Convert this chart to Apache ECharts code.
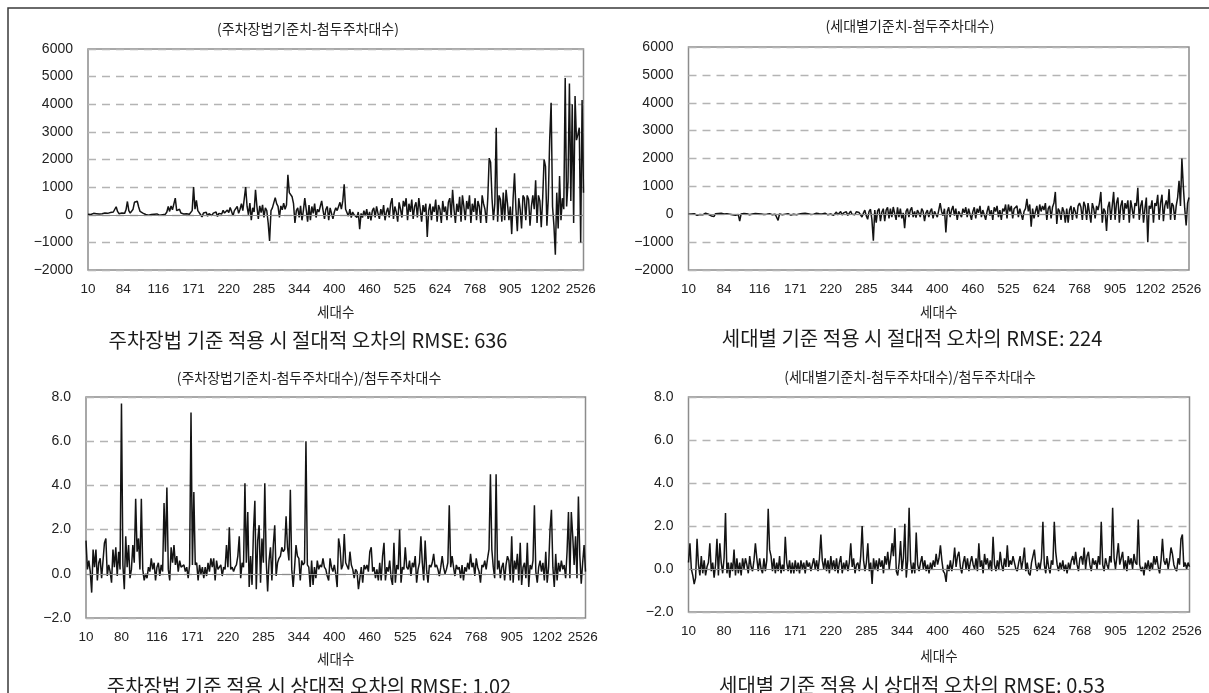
<!DOCTYPE html>
<html><head><meta charset="utf-8">
<script src="https://cdn.jsdelivr.net/npm/echarts@6/dist/echarts.min.js"></script>
<style>html,body{margin:0;padding:0;background:#fff}#c{width:1209px;height:693px}</style>
</head><body><div id="c"></div>
<script>
// ---- tick labels (세대수) ----
const tickLabelsTop = ['10','84','116','171','220','285','344','400','460','525','624','768','905','1202','2526'];
const tickLabelsBottom = ['10','80','116','171','220','285','344','400','460','525','624','768','905','1202','2526'];
const pointsPerTick = 25;

// ---- panel titles / footers ----
const panelTitles = ['(주차장법기준치-첨두주차대수)','(세대별기준치-첨두주차대수)','(주차장법기준치-첨두주차대수)/첨두주차대수','(세대별기준치-첨두주차대수)/첨두주차대수'];
const rmseTexts = ['주차장법 기준 적용 시 절대적 오차의 RMSE: 636','세대별 기준 적용 시 절대적 오차의 RMSE: 224','주차장법 기준 적용 시 상대적 오차의 RMSE: 1.02','세대별 기준 적용 시 상대적 오차의 RMSE: 0.53'];
const xAxisName = '세대수';

// ---- series: (주차장법기준치-첨두주차대수) ----
const absLawErr = [
20,40,10,30,50,20,40,60,30,70,40,20,60,90,50,30,80,60,100,60,290,120,40,110,60,
100,50,180,480,150,60,90,200,450,380,490,280,120,180,60,30,10,20,-20,30,10,-10,20,0,30,
10,-20,40,0,60,20,100,300,120,320,180,220,600,150,80,200,60,110,30,70,40,90,20,60,150,
1000,200,520,150,80,0,-80,60,20,90,-50,40,80,-30,60,20,100,-60,50,120,30,160,60,100,170,
80,260,120,-40,150,90,300,50,200,400,150,80,1000,300,0,420,-200,250,100,900,300,-150,320,80,360,
-100,250,150,-300,-950,150,250,200,620,400,300,-100,320,180,420,200,350,1450,800,850,650,400,-300,150,250,
-100,320,-200,150,600,200,-250,350,-200,300,50,400,-100,200,100,300,500,150,-150,200,300,-200,250,300,-150,
100,250,150,300,450,200,500,1100,200,150,-50,200,-100,100,0,50,-100,100,-520,50,-100,150,-50,200,-150,
100,-200,150,250,-100,300,50,-150,200,0,350,-200,100,250,-100,400,600,-150,300,100,-250,450,200,-100,500,
300,600,-200,400,100,550,-150,300,450,-100,600,200,-250,350,100,400,-800,150,400,-200,300,100,550,-250,350,
200,-300,500,100,300,-200,450,600,-100,900,200,-300,400,100,650,-250,700,300,-200,500,200,700,-300,400,100,
600,-200,500,300,-300,700,400,200,-300,600,2050,1900,600,-200,400,3150,-250,700,550,-250,800,-200,900,400,-200,
300,-700,600,1500,200,-600,600,200,-500,700,600,-200,700,550,-400,300,700,200,1250,-300,700,500,-450,600,2000,
1750,-400,600,2750,4050,300,-400,-1450,800,-500,1400,-200,600,200,4950,300,1200,4750,500,4000,-300,4300,2700,2900,3150,-1000,4150,800
];

// ---- series: (세대별기준치-첨두주차대수) ----
const absHouseErr = [
0,-20,10,-30,20,0,-40,30,-10,20,-20,10,40,-30,0,20,-60,10,-80,20,-20,30,0,40,-10,
10,-30,20,-50,0,30,-20,10,-40,20,-10,-250,10,0,30,-10,20,0,-20,40,10,-10,30,0,20,
-20,10,30,-10,20,0,-30,20,10,-20,40,0,-30,-220,10,30,-20,40,0,-40,20,10,-30,30,0,
20,-20,50,10,-30,30,0,40,-20,20,50,-10,30,0,-40,40,10,20,70,10,-30,40,20,-20,50,
10,60,-40,30,80,-20,40,100,-30,50,20,90,-40,30,110,0,60,-20,90,20,60,130,-100,40,150,
-50,-180,100,180,-200,-950,150,-300,120,200,-250,80,200,-250,150,250,-150,200,-100,260,200,-200,250,-100,200,
-150,50,-500,100,200,-100,150,250,-100,100,-120,150,50,-100,200,100,-250,50,150,-100,100,200,-150,100,50,
-100,150,400,100,-50,200,-650,100,250,-100,150,300,-50,200,-200,100,150,-100,200,50,250,-100,200,150,-200,
100,250,-150,200,50,300,-100,150,200,-200,100,300,-50,150,-200,250,100,300,-100,150,-200,200,100,350,-150,
350,100,300,-150,200,150,300,-100,200,250,-200,100,200,550,100,350,-450,200,-150,100,300,-100,350,100,300,
150,400,-200,200,300,-150,250,400,800,-350,200,100,-200,250,100,-300,200,-300,150,300,-200,250,100,-150,300,
400,250,-200,450,300,-200,400,350,-300,400,200,-150,300,150,400,800,-300,200,100,-600,250,450,-200,300,800,
-200,400,600,-300,300,500,-200,400,200,500,-300,500,200,-150,400,300,950,-200,300,500,-300,200,600,-1000,300,
200,500,-300,400,300,700,-200,400,700,-250,300,500,200,900,-200,400,300,-200,300,600,1200,300,2000,1000,200,-400,400,600
];

// ---- series: (주차장법기준치-첨두주차대수)/첨두주차대수 ----
const relLawErr = [
1.5,0.2,0.6,0.1,-0.85,1.1,0.3,1.1,-0.3,0.5,0.7,-0.2,0.6,1.4,1.6,-0.1,0.4,0.1,-0.4,1.1,0.3,1.2,-0.1,1.0,0.2,
7.7,0.4,-0.7,1.7,0.3,1.3,-0.2,0.2,1.3,0.5,3.4,1.0,1.6,0.2,3.4,0.2,-0.3,0.0,-0.2,0.3,0.1,0.7,0.2,0.5,-0.3,
0.3,0.5,-0.1,0.4,0.1,3.2,1.0,3.9,0.2,-0.3,1.2,0.5,1.3,0.4,0.8,0.1,0.6,0.3,0.3,0.4,0.1,0.3,-0.2,0.4,7.3,
0.4,3.7,0.4,0.5,-0.3,0.4,0.0,0.3,-0.2,0.3,-0.1,0.5,0.1,0.7,0.3,0.7,-0.3,0.6,0.2,0.2,0.4,-0.1,0.3,0.2,1.3,
0.3,2.1,0.2,0.3,0.1,0.3,0.4,0.8,1.7,-0.2,0.5,0.3,4.1,0.5,2.8,-0.6,0.8,-0.5,1.9,3.3,-0.7,1.5,2.2,-0.4,1.6,
0.5,4.1,0.6,-0.8,0.6,1.2,-0.3,1.3,2.2,-0.1,0.5,0.7,0.8,1.2,1.0,1.1,2.6,1.2,0.6,3.8,0.2,-0.6,0.3,1.3,0.8,
0.7,-0.3,0.6,0.4,0.5,6.0,0.4,0.3,-0.6,0.6,-0.5,0.3,-0.2,0.6,0.2,0.4,0.3,0.7,0.3,0.2,-0.1,-0.3,0.7,0.3,0.1,
0.4,0.0,-0.6,1.6,1.2,0.2,0.4,1.8,0.5,0.5,0.2,1.0,0.4,0.2,-0.2,0.2,0.1,-0.7,-0.2,0.3,-0.4,0.4,0.2,0.4,0.1,
1.0,1.2,0.1,0.3,-0.2,0.2,-0.3,0.5,-0.3,0.8,1.4,-0.3,0.3,0.1,0.6,-0.2,-0.5,1.4,-0.4,0.4,0.2,2.0,-0.4,0.3,0.2,
1.2,0.3,0.2,0.6,-0.1,0.5,0.3,0.8,-0.4,0.2,0.5,1.7,0.5,-0.3,1.5,0.2,-0.4,0.4,0.3,0.5,0.9,0.3,0.4,0.2,-0.1,
0.3,0.8,0.3,0.0,0.2,0.5,3.1,0.3,0.8,0.3,-0.1,0.4,0.2,0.3,-0.2,0.4,-0.3,0.3,0.1,0.5,0.2,0.9,0.3,0.5,-0.1,
0.7,0.3,0.1,-0.4,0.4,0.3,0.6,0.2,0.7,1.1,4.5,1.1,0.3,-0.2,4.5,0.2,0.6,-0.2,0.3,0.5,-0.3,0.4,0.8,0.6,-0.3,
1.7,-0.4,0.6,0.2,0.9,-0.3,1.4,-0.5,0.3,0.5,-0.2,1.4,-0.6,0.4,0.2,0.6,3.1,0.1,-0.4,0.3,0.6,0.1,0.5,-0.3,1.0,
-0.4,0.3,2.0,2.9,0.3,-0.6,0.9,-0.3,0.5,0.1,0.6,0.2,0.4,-0.2,1.0,2.8,-0.2,2.8,1.7,0.4,1.7,-0.2,3.5,0.8,-0.45,0.5,1.3,0.1
];

// ---- series: (세대별기준치-첨두주차대수)/첨두주차대수 ----
const relHouseErr = [
0.3,1.2,0.0,-0.3,-0.7,-0.4,1.4,0.2,-0.3,0.6,-0.2,0.4,-0.3,0.1,0.3,1.2,-0.1,0.3,-0.4,0.2,1.4,-0.3,1.2,0.3,-0.2,
0.5,2.6,-0.2,0.3,-0.4,0.3,-0.1,0.9,-0.3,0.5,-0.2,0.3,-0.3,0.5,0.0,0.5,0.2,-0.2,0.6,0.1,-0.1,0.4,1.2,0.5,-0.1,
0.5,0.0,-0.2,0.5,-0.1,0.4,2.8,0.9,0.6,-0.1,0.5,-0.2,0.3,-0.1,0.6,-0.2,0.2,-0.1,1.5,0.3,-0.1,0.4,-0.2,0.3,-0.2,
0.4,-0.1,0.3,-0.2,0.4,0.0,0.3,-0.2,0.4,0.1,0.3,-0.1,0.2,0.5,0.0,0.4,-0.1,0.5,1.6,0.4,0.0,0.5,-0.1,0.4,-0.2,
0.6,0.0,0.4,-0.1,0.5,-0.2,0.3,0.6,-0.2,0.3,0.0,0.4,-0.1,0.3,1.2,0.1,0.5,-0.2,0.2,0.3,-0.1,0.6,2.0,0.4,-0.1,
0.3,1.2,-0.1,0.3,-0.7,0.5,0.0,0.4,-0.1,0.5,0.1,0.4,-0.2,0.6,0.2,0.8,0.0,0.5,1.2,0.6,1.9,-0.1,-0.3,0.3,1.3,
-0.1,0.5,2.1,-0.4,0.4,2.85,0.4,-0.2,0.3,-0.2,1.7,0.2,-0.1,0.3,0.6,0.0,0.4,-0.1,0.2,-0.2,0.3,0.0,0.4,0.1,0.7,
0.2,0.5,1.1,0.4,-0.1,-0.2,-0.6,0.2,-0.1,0.4,-0.1,0.3,1.0,0.1,0.6,0.8,0.1,-0.2,0.3,0.6,0.0,0.5,-0.1,0.3,0.6,
0.2,0.0,0.5,-0.1,1.2,0.1,0.4,-0.2,0.7,0.2,0.5,0.0,0.4,-0.1,1.5,0.2,-0.1,0.4,0.0,0.8,0.2,-0.1,0.5,0.1,1.1,
0.1,0.4,0.2,0.6,0.3,0.0,-0.1,0.3,0.6,0.0,0.4,1.0,-0.1,0.3,-0.2,-0.3,0.3,0.6,0.9,0.2,-0.1,0.3,0.0,0.5,2.2,
0.2,-0.2,0.6,0.1,-0.2,0.4,0.2,2.2,0.8,0.2,-0.1,0.3,0.0,0.4,-0.1,0.2,-0.2,0.3,0.0,0.4,0.6,0.2,0.8,0.2,-0.1,
0.5,0.6,0.2,1.0,0.0,0.6,0.8,0.2,-0.1,0.5,0.2,0.4,0.0,0.6,0.2,2.2,0.2,-0.1,0.5,0.2,0.0,0.6,0.3,2.85,0.5,
0.0,0.6,1.2,0.2,0.5,0.8,0.0,0.4,-0.1,0.6,0.2,0.5,0.0,0.7,0.3,0.2,2.3,0.2,-0.1,0.1,-0.3,0.3,0.0,0.4,-0.1,
0.3,0.0,0.6,0.2,0.6,0.1,-0.2,0.4,1.4,0.4,0.2,0.5,0.0,0.4,1.0,0.7,0.2,0.0,-0.1,0.5,0.2,1.4,1.6,0.1,0.3,0.0,0.3,0.1
];

const FONT = "'Liberation Sans', 'Noto Sans CJK KR', sans-serif";
const KFONT = "'Noto Sans CJK KR', 'Liberation Sans', sans-serif";

const panels = [
  {data: absLawErr, ticks: tickLabelsTop, grid: {left: 88, top: 49, width: 495.5, height: 221}, ymin: -2000, ymax: 6000, yint: 1000, dec: 0,
   title: [308, 29], name: 35, foot: [308, 340]},
  {data: absHouseErr, ticks: tickLabelsTop, grid: {left: 688.5, top: 47, width: 500.5, height: 223}, ymin: -2000, ymax: 6000, yint: 1000, dec: 0,
   title: [910, 26], name: 35, foot: [912, 338]},
  {data: relLawErr, ticks: tickLabelsBottom, grid: {left: 86, top: 397, width: 499.5, height: 221}, ymin: -2, ymax: 8, yint: 2, dec: 1,
   title: [309, 378], name: 34.5, foot: [309, 686]},
  {data: relHouseErr, ticks: tickLabelsBottom, grid: {left: 688.5, top: 397, width: 501, height: 215}, ymin: -2, ymax: 8, yint: 2, dec: 1,
   title: [910, 377], name: 37, foot: [912, 685]}
];

const lastIndex = absLawErr.length - 1;

const option = {
  animation: false,
  backgroundColor: '#ffffff',
  textStyle: {fontFamily: FONT},
  grid: panels.map(p => Object.assign({show: true, borderColor: '#8c8c8c', borderWidth: 1.5, backgroundColor: 'transparent', containLabel: false}, p.grid)),
  xAxis: panels.map((p, i) => ({
    type: 'value', gridIndex: i, min: 0, max: lastIndex, interval: pointsPerTick,
    axisLine: {show: false}, axisTick: {show: false}, splitLine: {show: false},
    name: xAxisName, nameLocation: 'middle', nameGap: p.name,
    nameTextStyle: {fontFamily: KFONT, fontSize: 13.5, color: '#222'},
    axisLabel: {
      color: '#222', fontSize: 13.5, margin: 13, fontFamily: FONT, hideOverlap: false,
      formatter: v => (v % pointsPerTick === 0 && v / pointsPerTick < p.ticks.length) ? p.ticks[v / pointsPerTick] : ''
    }
  })),
  yAxis: panels.map((p, i) => ({
    type: 'value', gridIndex: i, min: p.ymin, max: p.ymax, interval: p.yint,
    axisLine: {show: false}, axisTick: {show: false},
    splitLine: {show: true, lineStyle: {color: '#b4b4b4', width: 1.3, type: [8, 6]}},
    axisLabel: {
      color: '#222', fontSize: 14, margin: 15, fontFamily: FONT,
      formatter: v => (v < 0 ? '\u2212' : '') + Math.abs(v).toFixed(p.dec)
    }
  })),
  series: panels.map((p, i) => ({
    type: 'line', xAxisIndex: i, yAxisIndex: i,
    data: p.data.map((v, k) => [k, v]),
    showSymbol: false, symbol: 'none', smooth: false,
    lineStyle: {color: '#141414', width: 1.5},
    markLine: {silent: true, symbol: 'none', label: {show: false}, animation: false,
      lineStyle: {color: '#8c8c8c', type: 'solid', width: 1}, data: [{yAxis: 0}]},
    z: 3
  })),
  graphic: [
    {type: 'polyline', shape: {points: [[8, 693], [8, 8], [1209, 8]]}, style: {stroke: '#3a3a3a', lineWidth: 1.5, fill: null}, silent: true}
  ].concat(panels.map((p, i) => ({
    type: 'text', x: p.title[0], y: p.title[1],
    style: {text: panelTitles[i], textAlign: 'center', textVerticalAlign: 'middle', font: "14px " + KFONT, fill: '#222'}
  }))).concat(panels.map((p, i) => ({
    type: 'text', x: p.foot[0], y: p.foot[1],
    style: {text: rmseTexts[i], textAlign: 'center', textVerticalAlign: 'middle', font: "20px " + KFONT, fill: '#1a1a1a'}
  })))
};

const chart = echarts.init(document.getElementById('c'), null, {renderer: 'canvas'});
chart.setOption(option);
</script>
</body></html>
